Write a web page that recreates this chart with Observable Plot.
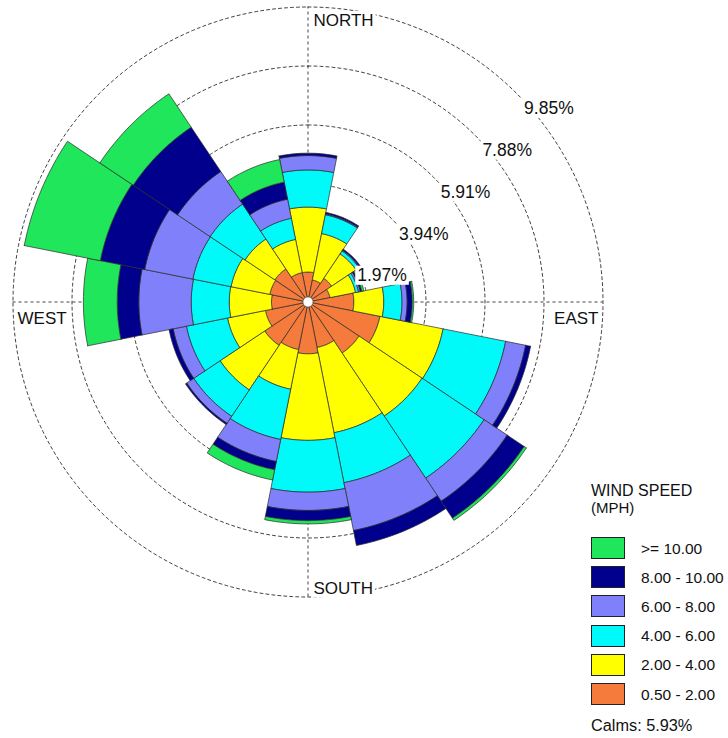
<!DOCTYPE html>
<html>
<head>
<meta charset="utf-8">
<script src="https://cdn.jsdelivr.net/npm/d3@7"></script>
<script src="https://cdn.jsdelivr.net/npm/@observablehq/plot@0.6"></script>
<style>
  html, body { margin: 0; padding: 0; background: #fff; }
  #wrap { position: relative; width: 728px; height: 738px; font-family: "Liberation Sans", Arial, sans-serif; color: #111; }
  .lg { position: absolute; white-space: nowrap; }
  .sw { position: absolute; box-sizing: border-box; border: 1px solid #222; }
</style>
</head>
<body>
<div id="wrap"></div>
<script>
// ---------- data ----------
const directions = ["N","NNE","NE","ENE","E","ESE","SE","SSE","S","SSW","SW","WSW","W","WNW","NW","NNW"];
const speedClasses = ["0.50 - 2.00","2.00 - 4.00","4.00 - 6.00","6.00 - 8.00","8.00 - 10.00",">= 10.00"];
const classColors = ["#f57b3d","#ffff00","#00fafa","#8080fa","#00008c","#1fe65a"];

// frequency (%) per direction for each wind-speed class
const pct_050_200 = [1.00, 0.75, 0.95, 0.75, 1.53, 2.45, 2.05, 1.55, 1.73, 1.62, 1.74, 1.45, 1.22, 1.30, 1.33, 1.00];
const pct_200_400 = [2.17, 1.58, 0.98, 0.87, 1.00, 2.15, 2.53, 2.90, 2.89, 1.35, 1.79, 1.29, 1.41, 1.32, 1.20, 1.13];
const pct_400_600 = [1.24, 0.64, 0.12, 0.10, 0.61, 2.13, 2.49, 1.70, 1.73, 1.71, 1.06, 1.40, 1.27, 1.30, 1.40, 0.72];
const pct_600_800 = [0.48, 0.03, 0.03, 0.06, 0.17, 0.68, 0.93, 1.63, 0.61, 0.75, 0.28, 0.45, 1.75, 1.64, 1.31, 0.65];
const pct_800_1000 = [0.08, 0.05, 0.04, 0.05, 0.17, 0.17, 0.68, 0.51, 0.34, 0.28, 0.05, 0.14, 0.72, 1.51, 1.78, 0.58];
const pct_ge_1000 = [0.00, 0.00, 0.00, 0.07, 0.05, 0.00, 0.09, 0.00, 0.11, 0.35, 0.00, 0.00, 1.13, 2.59, 1.34, 0.77];
const seriesByClass = [pct_050_200, pct_200_400, pct_400_600, pct_600_800, pct_800_1000, pct_ge_1000];

const ringValues = [1.97, 3.94, 5.91, 7.88, 9.85];
const ringLabels = ["1.97%", "3.94%", "5.91%", "7.88%", "9.85%"];
const compassLabels = ["NORTH", "EAST", "SOUTH", "WEST"];
const legendTitle = "WIND SPEED";
const legendUnit = "(MPH)";
const calmsText = "Calms: 5.93%";

// ---------- layout ----------
const W = 728, H = 738, CX = 307.5, CY = 301.5;
const RMAX = ringValues[ringValues.length - 1];
const PX = 295 / RMAX; // pixels per percent
const rad = d => d * Math.PI / 180;
const SECTOR = 360 / directions.length;

// wedge polygons in data (percent) units
const wedges = [];
directions.forEach((dir, i) => {
  let r0 = 0;
  seriesByClass.forEach((vals, j) => {
    const v = vals[i];
    const r1 = r0 + v;
    if (v > 0) {
      const a0 = rad(i * SECTOR - SECTOR / 2), a1 = rad(i * SECTOR + SECTOR / 2);
      const n = 16, id = dir + "-" + j;
      const pts = [];
      for (let s = 0; s <= n; s++) { const a = a0 + (a1 - a0) * s / n; pts.push({id, cls: j, x: r1 * Math.sin(a), y: r1 * Math.cos(a)}); }
      for (let s = n; s >= 0; s--) { const a = a0 + (a1 - a0) * s / n; pts.push({id, cls: j, x: r0 * Math.sin(a), y: r0 * Math.cos(a)}); }
      pts.push({...pts[0]});
      wedges.push(...pts);
    }
    r0 = r1;
  });
});

const ringPts = ringValues.flatMap(v => d3.range(0, 361, 1).map(t => ({v, x: v * Math.sin(rad(t)), y: v * Math.cos(rad(t))})));

const dash = "3,3";
const marks = [
  Plot.line(ringPts, {x: "x", y: "y", z: "v", stroke: "#111", strokeWidth: 0.8, strokeDasharray: dash}),
  Plot.ruleX([0], {y1: -RMAX, y2: RMAX, stroke: "#111", strokeWidth: 0.8, strokeDasharray: dash}),
  Plot.ruleY([0], {x1: -RMAX, x2: RMAX, stroke: "#111", strokeWidth: 0.8, strokeDasharray: dash})
];
speedClasses.forEach((c, j) => {
  marks.push(Plot.line(wedges.filter(d => d.cls === j), {x: "x", y: "y", z: "id", fill: classColors[j], stroke: "#2a2a2a", strokeWidth: 0.7, strokeLinejoin: "miter"}));
});
marks.push(Plot.dot([0], {x: () => 0, y: () => 0, r: 5, fill: "white", stroke: "#444", strokeWidth: 0.5}));
// ring labels along the NE diagonal
marks.push(Plot.text(ringValues, {
  x: v => v * Math.SQRT1_2, y: v => v * Math.SQRT1_2, text: (v, i) => ringLabels[i],
  textAnchor: "start", lineAnchor: "bottom", dx: 7.5, dy: 21, fontSize: 17.5, fill: "#111"
}));
// compass labels
marks.push(Plot.text([compassLabels[0]], {x: () => 0, y: () => RMAX, text: d => d, textAnchor: "start", lineAnchor: "bottom", dx: 5.5, dy: 18.5, fontSize: 17, fill: "#111"}));
marks.push(Plot.text([compassLabels[2]], {x: () => 0, y: () => -RMAX, text: d => d, textAnchor: "start", lineAnchor: "bottom", dx: 5.5, dy: -3, fontSize: 17, fill: "#111"}));
marks.push(Plot.text([compassLabels[3]], {x: () => -RMAX, y: () => 0, text: d => d, textAnchor: "start", lineAnchor: "bottom", dx: 4.5, dy: 21.5, fontSize: 17, fill: "#111"}));
marks.push(Plot.text([compassLabels[1]], {x: () => RMAX, y: () => 0, text: d => d, textAnchor: "end", lineAnchor: "bottom", dx: -4.5, dy: 21.5, fontSize: 17, fill: "#111"}));

const chart = Plot.plot({
  width: W, height: H, margin: 0,
  x: {domain: [-CX / PX, (W - CX) / PX], axis: null},
  y: {domain: [-(H - CY) / PX, CY / PX], axis: null},
  style: {fontFamily: "'Liberation Sans', Arial, sans-serif", background: "white"},
  marks
});
const wrap = document.getElementById("wrap");
wrap.appendChild(chart);

// white boxes behind labels
d3.select(chart).selectAll('g[aria-label="text"] text').each(function() {
  const b = this.getBBox();
  const r = d3.select(this.parentNode).insert("rect", () => this)
    .attr("x", b.x - 2).attr("y", b.y + 0.5).attr("width", b.width + 4).attr("height", b.height - 1)
    .attr("fill", "white");
  const t = this.getAttribute("transform");
  if (t) r.attr("transform", t);
});

// ---------- legend (HTML overlay) ----------
function addText(txt, left, top, size, lh) {
  const el = document.createElement("div");
  el.className = "lg";
  el.textContent = txt;
  el.style.left = left + "px"; el.style.top = top + "px";
  el.style.fontSize = size + "px"; el.style.lineHeight = (lh || size) + "px";
  wrap.appendChild(el);
}
addText(legendTitle, 591, 484, 16, 13);
addText(legendUnit, 591, 502.3, 15, 12);
const order = d3.range(speedClasses.length).reverse();
order.forEach((j, k) => {
  const top = 537 + k * 29.2;
  const sw = document.createElement("div");
  sw.className = "sw";
  sw.style.left = "591px"; sw.style.top = top + "px";
  sw.style.width = "34px"; sw.style.height = "22px";
  sw.style.background = classColors[j];
  wrap.appendChild(sw);
  addText(speedClasses[j], 641, top + 3.5, 15.5);
});
addText(calmsText, 591, 716.5, 16.3);
</script>
</body>
</html>
